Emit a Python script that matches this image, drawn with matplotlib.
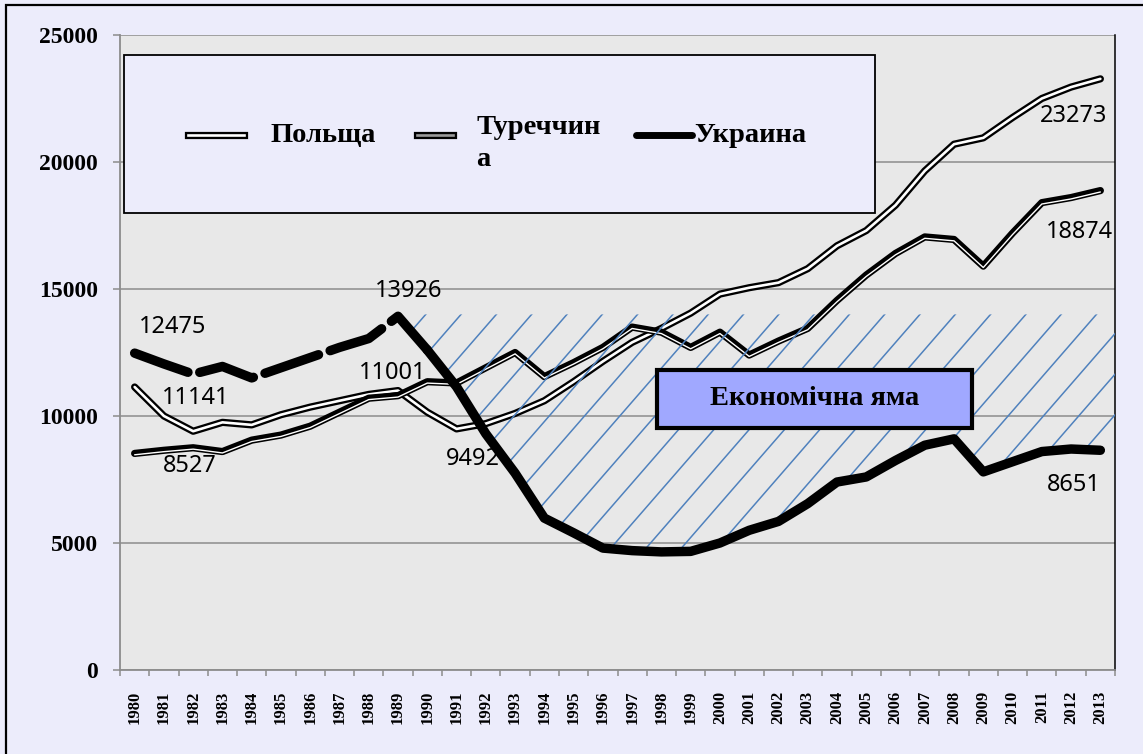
import numpy as np
import matplotlib
matplotlib.use('Agg')
import matplotlib.pyplot as plt
import matplotlib.patheffects as pe
from matplotlib.patches import Rectangle
from matplotlib.lines import Line2D
from matplotlib.collections import LineCollection
from matplotlib.path import Path

# Data: GDP per capita, 1980-2013
years = list(range(1980, 2014))
poland = [11141, 10000, 9400, 9750, 9650, 10050, 10350, 10600, 10850, 11001,
          10150, 9492, 9700, 10100, 10600, 11350, 12150, 12900, 13450, 14050,
          14800, 15050, 15250, 15800, 16700, 17300, 18300, 19650, 20700, 20950,
          21750, 22500, 22950, 23273]
turkey = [8527, 8650, 8750, 8600, 9050, 9250, 9600, 10150, 10700, 10800,
          11350, 11300, 11900, 12500, 11550, 12100, 12700, 13500, 13300, 12700,
          13300, 12400, 12950, 13450, 14550, 15550, 16400, 17050, 16950, 15900,
          17200, 18400, 18600, 18874]
ukraine = [12475, 12050, 11650, 11950, 11500, 11900, 12300, 12700, 13050, 13926,
           12600, 11150, 9300, 7750, 5980, 5400, 4800, 4700, 4650, 4670,
           5000, 5500, 5850, 6550, 7400, 7600, 8250, 8850, 9100, 7800,
           8200, 8600, 8700, 8651]
pit_top = 14000
pit_start = 1989

# labelled points: (series, year)
labels = [('ukraine', 1980), ('poland', 1980), ('turkey', 1980),
          ('ukraine', 1989), ('poland', 1989), ('poland', 1991),
          ('poland', 2013), ('turkey', 2013), ('ukraine', 2013)]
# label offsets in points
offsets = [(27, 19), (44, -8), (40, -9), (8, 18), (-4, 13), (12, -22),
           (-19, -27), (-15, -30), (-19, -25)]

series = {'poland': poland, 'turkey': turkey, 'ukraine': ukraine}
x = np.arange(len(years))

bg = '#ECECFB'
serif = 'Liberation Serif'

fig = plt.figure(figsize=(11.43, 7.54), dpi=100, facecolor=bg)
fig.patches.append(Rectangle((0.0052, -0.05), 1.1, 1.0434, transform=fig.transFigure,
                             fill=False, edgecolor='black', linewidth=1.6))

ax = fig.add_axes([0.105, 0.1114, 0.8705, 0.8422])
ax.set_facecolor('#E8E8E8')
ax.set_xlim(-0.5, len(years) - 0.5)
ax.set_ylim(0, 25000)

# grid and spines
ax.set_axisbelow(True)
ax.yaxis.grid(True, color='#8C8C8C', linewidth=1.1)
ax.spines['top'].set_visible(False)
ax.spines['right'].set_color('black')
ax.spines['right'].set_linewidth(1.1)
ax.spines['left'].set_color('#8C8C8C')
ax.spines['bottom'].set_color('#8C8C8C')
ax.spines['left'].set_linewidth(1.3)
ax.spines['bottom'].set_linewidth(1.3)

ax.set_yticks(range(0, 25001, 5000))
ax.set_yticklabels([str(v) for v in range(0, 25001, 5000)],
                   fontfamily=serif, fontweight='bold', fontsize=17)
ax.tick_params(axis='y', direction='out', length=5, width=1.1, color='#8C8C8C', pad=11)

ax.set_xticks(x)
ax.set_xticklabels([str(y) for y in years], rotation=90, fontfamily=serif,
                   fontweight='bold', fontsize=12)
ax.tick_params(axis='x', which='major', length=0, pad=15)
ax.set_xticks(np.arange(-0.5, len(years), 1.0), minor=True)
ax.tick_params(axis='x', which='minor', direction='out', length=4, width=1.1,
               color='#8C8C8C')

# Poland: white core with black outline
ax.plot(x, poland, color='white', linewidth=1.9, solid_capstyle='round',
        solid_joinstyle='round', zorder=3,
        path_effects=[pe.Stroke(linewidth=5.2, foreground='black'), pe.Normal()])
# Turkey: black line with thin white shadow core
ax.plot(x, turkey, color='black', linewidth=5.2, solid_capstyle='round',
        solid_joinstyle='round', zorder=3,
        path_effects=[pe.Normal(),
                      pe.Stroke(linewidth=1.0, foreground='white', offset=(0, -1.0))])

# hatched "economic pit" between Ukraine and 14000
i0 = years.index(pit_start)
verts = [(xi, v) for xi, v in zip(x[i0:], ukraine[i0:])]
verts += [(x[-1] + 0.5, ukraine[-1]), (x[-1] + 0.5, pit_top), (x[i0], pit_top), verts[0]]
pit = Path(verts, closed=True)

slope = 1.15 * (995 / 635)
step = 35.3 / 995
y_ref, x_ref = 0.5622, 0.3085
segs = []
for k in range(-60, 60):
    xc = x_ref + k * step
    segs.append([(xc - y_ref / slope, 0), (xc + (1 - y_ref) / slope, 1)])
hatch = LineCollection(segs, colors='#4F81BD', linewidths=1.1, transform=ax.transAxes,
                       zorder=4)
ax.add_collection(hatch)
hatch.set_clip_path(pit, ax.transData)

# Ukraine: dashed before 1990, solid after
ax.plot(x[:11], ukraine[:11], color='black', linewidth=6.8, dashes=(6, 1.3),
        dash_capstyle='round', zorder=5)
ax.plot(x[10:], ukraine[10:], color='black', linewidth=6.8, solid_capstyle='round',
        solid_joinstyle='round', zorder=5)

# data labels
for (name, yr), (dx, dy) in zip(labels, offsets):
    i = years.index(yr)
    v = series[name][i]
    ax.annotate(str(v), xy=(i, v), xytext=(dx, dy), textcoords='offset points',
                ha='center', va='center', fontsize=17, fontfamily='Noto Sans',
                color='black', zorder=7)

# "Економічна яма" box
ax.add_patch(Rectangle((0.5397, 0.3811), 0.3166, 0.0913, transform=ax.transAxes,
                       facecolor='#A0A8FF', edgecolor='black', linewidth=3, zorder=6))
ax.text(0.698, 0.4268, 'Економічна яма', transform=ax.transAxes, ha='center',
        va='center', fontfamily=serif, fontweight='bold', fontsize=20.5, zorder=7)

# legend box
ax.add_patch(Rectangle((0.004, 0.7197), 0.755, 0.2488, transform=ax.transAxes,
                       facecolor=bg, edgecolor='black', linewidth=1.3, zorder=6))
ly = 0.8425
ax.add_line(Line2D([0.0683, 0.1246], [ly, ly], transform=ax.transAxes, color='white',
                   linewidth=1.9, zorder=7,
                   path_effects=[pe.Stroke(linewidth=5.2, foreground='black'), pe.Normal()]))
ax.add_line(Line2D([0.2985, 0.3347], [ly, ly], transform=ax.transAxes, color='#9A9A9A',
                   linewidth=1.9, zorder=7,
                   path_effects=[pe.Stroke(linewidth=5.2, foreground='black'), pe.Normal()]))
ax.add_line(Line2D([0.5186, 0.5749], [ly, ly], transform=ax.transAxes, color='black',
                   linewidth=5.0, solid_capstyle='round', zorder=7))
leg_font = dict(fontfamily=serif, fontweight='bold', fontsize=20.5, zorder=7,
                transform=ax.transAxes, va='center', ha='left')
ax.text(0.1508, ly, 'Польща', **leg_font)
ax.text(0.3578, 0.8290, 'Туреччин\nа', linespacing=1.35, **leg_font)
ax.text(0.5769, ly, 'Украина', **leg_font)

fig.savefig('out.png', dpi=100, facecolor=bg)
